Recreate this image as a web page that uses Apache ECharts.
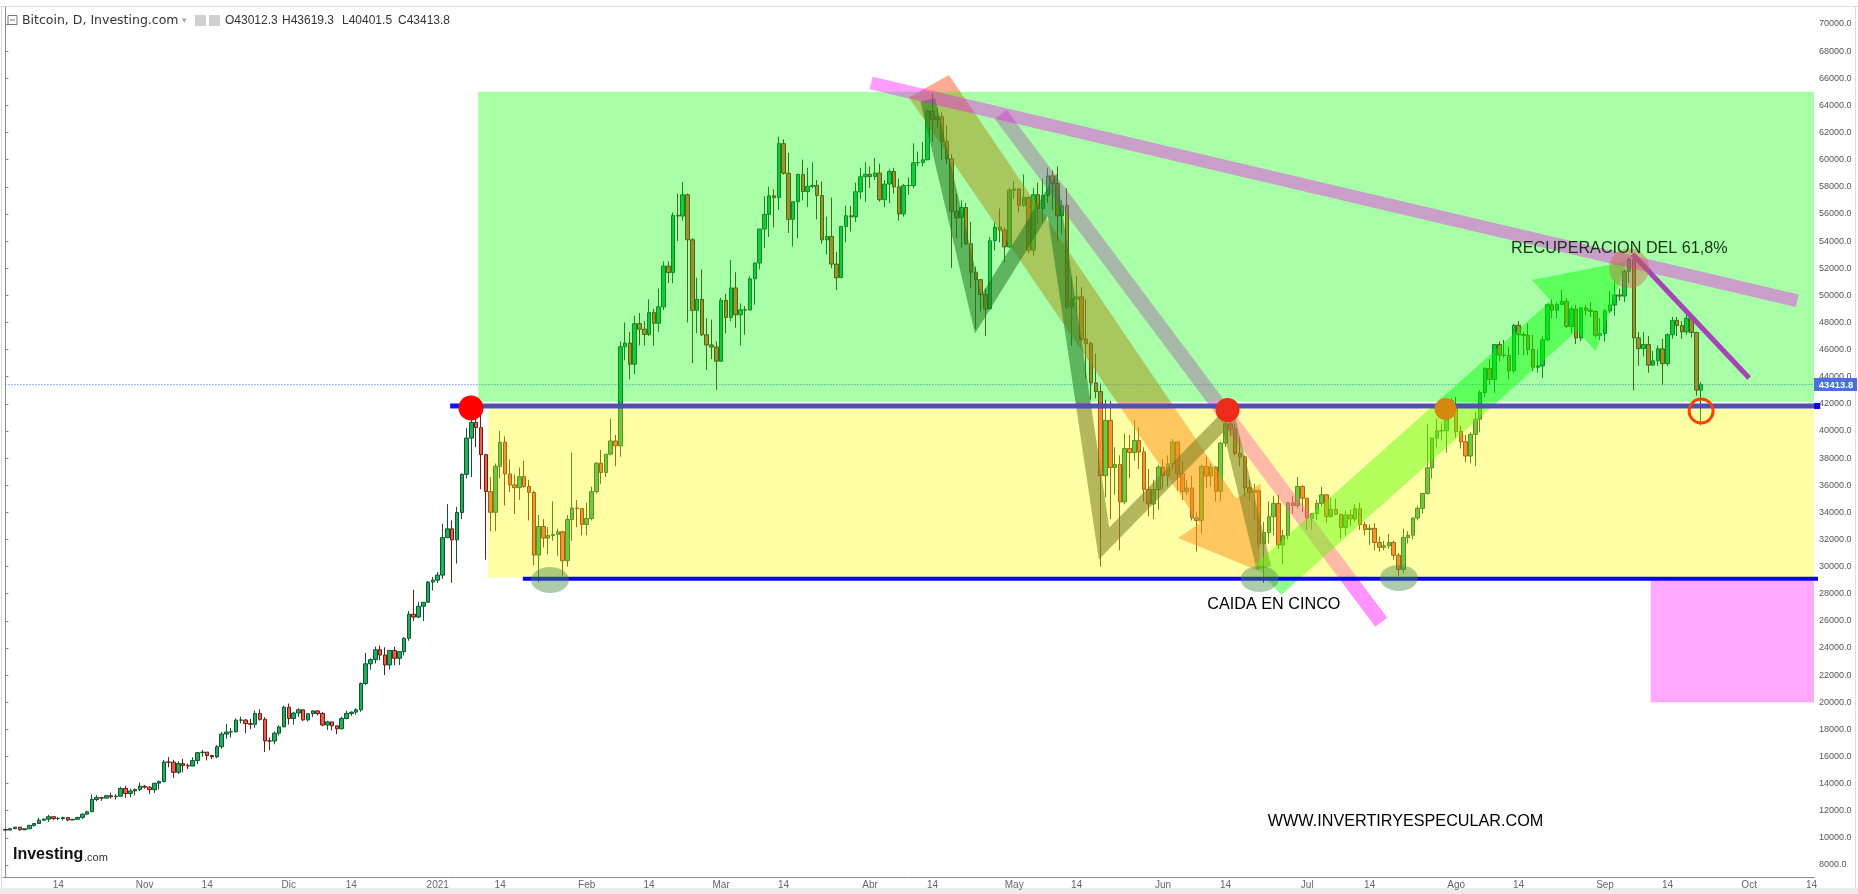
<!DOCTYPE html>
<html><head><meta charset="utf-8">
<script src="https://cdn.jsdelivr.net/npm/echarts@6/dist/echarts.min.js"></script>
<style>html,body{margin:0;padding:0;background:#fff;}#c{width:1858px;height:894px;}</style>
</head><body><div id="c"></div><script>
// ---------- DATA (daily BTC/USD, [close, high, low]; open = previous close) ----------
const firstOpen = 10620;
const oct2020 = [[10575,10660,10520],[10680,10700,10550],[10790,10800,10640],[10600,10800,10530],[10670,10680,10560],[10920,10960,10650],[11060,11100,10830],[11300,11490,11050],[11380,11430,11280],[11560,11700,11180],[11430,11560,11300],[11430,11540,11300],[11500,11560,11280],[11320,11540,11220],[11370,11400,11310],[11510,11520,11350],[11750,11800,11400],[11920,12000,11700],[12830,13200,11900],[12970,13150,12690],[12930,13020,12730],[13110,13150,12900],[13030,13330,12900],[13070,13220,12820],[13640,13760,13060],[13270,13840,12950],[13460,13620,12990],[13560,13650,13140],[13800,14090,13450]];
const nov2020 = [[13740,13900,13630],[13550,13800,13240],[14030,14050,13310],[14150,14230,13570],[15590,15740,14080],[15580,15960,15200],[14830,15750,14420],[15480,15650,14720],[15330,15830,14830],[15300,15480,15080],[15700,15940,15280],[16280,16330,15440],[16320,16480,15990],[16070,16320,15710],[15970,16120,15800],[16720,16830,15880],[17650,17800,16560],[17800,18390,17310],[17820,18100,17400],[18680,18800,17770],[18690,18940,18450],[18420,18750,17720],[18370,18770,18020],[19160,19390,18120],[18740,19480,18650],[17150,18900,16330],[17140,17400,16460],[17720,17850,16900],[18180,18300,17560],[19630,19750,18180]];
const dec2020 = [[18800,19900,18350],[19200,19300,18350],[19440,19560,18930],[18700,19500,18610],[19150,19160,18590],[19360,19400,18900],[19170,19420,19030],[18320,19290,18220],[18550,18630,17960],[18260,18560,17930],[18040,18260,17640],[18800,18930,18000],[19170,19380,18750],[19270,19310,19000],[19440,19560,19080],[21380,21460,19300],[22830,23640,21260],[23140,23240,22400],[23870,24100,22850],[23480,24170,23100],[22750,24050,22000],[23820,23830,22400],[23240,24080,22730],[23730,23780,22740],[24710,24790,23460],[26490,26720,24530],[26280,28290,25990],[27080,27390,26190],[27370,27370,25990],[28860,28940,27380],[29000,29240,28230]];
const jan2021 = [[29370,29600,28800],[32130,33160,29090],[32780,34600,32100],[31970,33400,28800],[33990,34400,30220],[36800,36880,33500],[39470,40200,36500],[40630,41950,36600],[40240,41380,38800],[38250,41300,35700],[35540,38300,30500],[34000,36600,32600],[37390,37600,32600],[39160,40000,36500],[36830,39600,34500],[36020,37900,35500],[35820,36800,33900],[36630,37300,34900],[35910,37800,35800],[35470,36400,33400],[30850,35600,30100],[32950,33800,28850],[32100,33500,31400],[32290,32900,30900],[32370,34800,31900],[32570,32800,30800],[30430,32500,29300],[33470,33800,30000],[34320,38400,31900],[34270,34900,32900],[33110,34300,32300]];
const feb2021 = [[33540,34700,32300],[35520,35900,33400],[37620,37700,35400],[36940,38600,36100],[38290,38300,36600],[39260,40900,38200],[38900,39700,37400],[46200,46600,38100],[46480,48000,45200],[44920,47300,43800],[47910,48500,44200],[47500,48700,46300],[47110,48100,46300],[48720,49700,47000],[47940,49000,46300],[49150,50500,47300],[52150,52500,48900],[51670,52500,50900],[55890,56100,50900],[55840,57500,54000],[57410,58350,55500],[54090,57500,48000],[48890,54200,45000],[49700,51300,47200],[47090,51900,47000],[46340,48300,44500],[46190,48200,45300],[45140,46600,43000]];
const mar2021 = [[49630,49800,45100],[48370,50100,47200],[50540,52600,48100],[48560,51700,47600],[48930,49400,46300],[48910,49200,47100],[51210,51400,48900],[52380,52400,49300],[54880,54900,51900],[55960,57300,53500],[57330,58000,54300],[57200,57800,55000],[61180,61700,56300],[59000,61500,58900],[55600,60500,54600],[56900,56900,53600],[58910,58970,54200],[57650,60000,57000],[58030,59400,56500],[58100,59800,57900],[57350,58500,55600],[54090,58400,53800],[54340,55800,53000],[52300,57200,52000],[51300,53200,50400],[55070,55100,51300],[55860,56600,53900],[55780,56600,54700],[57630,58300,55400],[58730,59400,57100],[58920,59800,56900]];
const apr2021 = [[58760,59500,57900],[59010,60100,58500],[57050,59700,56900],[58200,58500,56500],[59130,59300,56800],[57990,59400,57500],[56000,58600,55500],[58080,58200,55800],[58090,58700,57400],[59770,61200,57900],[59790,60600,59500],[59990,61300,59500],[63580,63700,60000],[62960,64850,61300],[63160,63800,62300],[61330,63500,60000],[60060,62500,59700],[56200,60400,52000],[55720,57500,54200],[56470,57000,53500],[53800,56800,53700],[51700,55400,50500],[51150,52100,47500],[50050,51100,48800],[49000,50500,47000],[54020,54300,48900],[55030,55400,53300],[54820,56400,53900],[53570,55000,52400],[57750,57900,53500]];
const may2021 = [[57830,58400,57100],[56630,57900,56100],[57200,58900,56500],[53330,57300,53100],[57420,57900,52900],[56400,58300,55300],[57360,58600,55400],[58800,59400,56800],[58230,59200,56300],[55860,59500,54000],[56610,57000,54500],[49150,57900,49000],[49720,51300,46300],[49880,51400,48800],[46760,50600,46600],[46430,49700,43900],[43540,46600,42300],[42900,45700,42400],[36700,43500,30000],[40780,42300,35100],[37300,42200,33500],[37530,38800,35300],[34770,38200,31200],[38700,39800,34600],[38400,39700,36500],[39290,40800,37800],[38450,40300,37200],[35690,38800,34800],[34620,37200,33700],[35680,36400,33500],[37340,37500,34200]];
const jun2021 = [[36690,37900,35700],[37580,38200,35900],[39190,39400,37200],[36870,39200,35600],[35520,37800,34900],[35800,36400,35300],[33590,36700,33400],[33400,34000,31100],[37390,37500,32400],[36680,38100,35800],[37330,37600,35900],[35550,37400,34800],[39100,39200,34800],[40520,41000,38800],[40140,41300,39600],[38350,40500,38200],[38090,39500,37400],[35820,38200,35200],[35480,36400,34900],[35600,36100,33400],[31680,35700,31300],[32510,33300,28800],[33680,34800,31700],[34660,35200,32300],[31590,35300,31300],[32280,32700,30200],[34700,34750,32000],[34500,35200,33900],[35910,36600,34300],[35040,36000,34000]];
const jul2021 = [[33570,35000,32700],[33900,33950,32700],[34660,34900,33400],[35290,35900,34400],[33690,35300,33200],[34220,35100,33600],[33860,35000,33800],[32880,33900,32100],[33810,34100,32300],[33520,34200,33000],[34260,34600,33300],[33090,34700,32700],[32730,33300,32300],[32820,33100,31600],[31780,33200,31200],[31420,32200,31100],[31530,31900,31200],[31780,32400,31300],[30840,31900,30500],[29790,31000,29300],[32140,32800,29500],[32310,32600,31700],[33580,33600,32000],[34290,34500,33400],[35390,35400,33900],[37280,40500,35300],[39470,39500,36500],[40000,40900,38800],[40030,40600,39300],[42230,42300,38400],[41630,42400,41100]];
const aug2021 = [[39970,42500,39500],[39200,40400,38700],[38150,39700,37700],[39750,39900,37600],[40870,41400,37400],[42830,43000,39900],[44610,44700,42500],[43800,45300,43400],[46370,46400,42800],[45590,46600,45100],[45560,46700,45400],[44430,46200,43800],[47790,47900,44300],[47100,48100,45600],[47050,47300,45600],[46000,47900,45600],[44700,47100,44400],[44800,46000,44300],[46720,47000,43900],[49300,49400,46600],[48900,49700,48300],[49320,49500,48300],[49550,50400,49300],[47700,49800,47600],[48990,49200,47200],[46850,49300,46400],[49070,49100,46600],[48900,49300,48500],[48810,49500,48400],[47050,48900,46900],[47170,48300,46700]];
const sep2021 = [[48850,49000,46600],[49280,50300,48700],[50030,51000,48500],[49940,50500,49600],[51770,51900,49500],[52660,52800,50900],[46860,52900,43000],[46070,47300,44800],[46370,47300,45500],[44850,47000,44300],[45170,45900,44800],[46050,46300,44800],[44960,46800,43400],[47090,47200,44800],[48150,48400,46800],[47770,48400,47000],[47300,48100,46800],[48310,48800,47100],[47260,48300,46900],[43010,47300,42600],[43413.8,43619.3,40401.5]];

const monthNames = ['Ene','Feb','Mar','Abr','May','Jun','Jul','Ago','Sep','Oct','Nov','Dic'];
const yTicks = [8000,10000,12000,14000,16000,18000,20000,22000,24000,26000,28000,30000,32000,34000,36000,38000,40000,42000,44000,46000,48000,50000,52000,54000,56000,58000,60000,62000,64000,66000,68000,70000];
const lastPrice = 43413.8;

// ---------- ANNOTATIONS (date, price) ----------
const zoneGreen  = [['2021-01-09T10', 65000], ['2021-10-14T12', 42150]];
const zoneYellow = [['2021-01-11T12', 41650], ['2021-10-14T12', 29200]];
const zonePink   = [['2021-09-10T12', 29000], ['2021-10-14T12', 20000]];
const levelTop   = [['2021-01-08T10', 41840], ['2021-10-15T08', 41840]];
const levelTopL  = [['2021-01-03T14', 41840], ['2021-01-08T10', 41840]];
const levelBot   = [['2021-01-18T17', 29100], ['2021-10-15T08', 29100]];
const magentaBand = [['2021-04-28T05', 63330], ['2021-07-16T10', 25900]];
const orangeArrow = [['2021-04-09T02', 64580], ['2021-04-17T10', 66240], ['2021-06-16T05', 35020], ['2021-06-21T07', 36120], ['2021-06-21T00', 29670], ['2021-06-04T02', 32110], ['2021-06-08T14', 33200]];
const waves = [['2021-04-13T01', 64400], ['2021-04-23T12', 48600], ['2021-05-08T22', 57400], ['2021-05-19T17', 31700], ['2021-06-14T10', 41000], ['2021-06-22T00', 29900]];
const greenArrow = [['2021-06-20T00', 30120], ['2021-08-20T17', 49600], ['2021-08-16T19', 51130], ['2021-09-05T12', 52500], ['2021-08-30T02', 45860], ['2021-08-26T05', 47400], ['2021-06-25T14', 27900]];
const trendLine = [['2021-04-01T05', 65650], ['2021-10-11T00', 49600]];
const purpleLine = [['2021-09-06T17', 53050], ['2021-10-01T00', 43900]];

const START = Date.UTC(2020, 9, 3);
const N_DAYS = 377;
function di(s) {
  const parts = s.split('T');
  const ymd = parts[0].split('-').map(Number);
  return (Date.UTC(ymd[0], ymd[1] - 1, ymd[2]) - START) / 864e5 + (parts[1] ? Number(parts[1]) / 24 : 0);
}

// categories (one per calendar day)
const cats = [], catLabel = [];
for (let i = 0; i < N_DAYS; i++) {
  const d = new Date(START + i * 864e5);
  cats.push(d.toISOString().slice(0, 10));
  const day = d.getUTCDate(), m = d.getUTCMonth();
  catLabel.push(day === 1 ? (m === 0 ? String(d.getUTCFullYear()) : monthNames[m]) : (day === 14 ? '14' : ''));
}
const rows = [].concat(oct2020, nov2020, dec2020, jan2021, feb2021, mar2021, apr2021, may2021, jun2021, jul2021, aug2021, sep2021);
let prev = firstOpen;
const ohlc = rows.map(r => { const o = prev; prev = r[0]; return [o, r[0], r[2], r[1]]; });

// ---------- shapes ----------
const under = [
  {kind: 'line', pts: [['2020-10-03', lastPrice], ['2021-10-14T12', lastPrice]], color: '#3f63e6', w: 1, dash: [1, 2]},
  {kind: 'line', pts: magentaBand, color: 'rgba(255,0,255,0.42)', w: 15},
  {kind: 'poly', pts: orangeArrow, color: 'rgba(255,85,35,0.5)'},
  {kind: 'line', pts: waves, color: 'rgba(50,55,50,0.55)', w: 15},
  {kind: 'poly', pts: greenArrow, color: 'rgba(0,255,0,0.45)'}
];
const zones = [
  {kind: 'rect', pts: zonePink, color: 'rgba(255,0,255,0.34)'},
  {kind: 'rect', pts: zoneGreen, color: 'rgba(0,255,0,0.34)'},
  {kind: 'rect', pts: zoneYellow, color: 'rgba(255,255,0,0.35)'}
];
const txtFont = '16.2px "Liberation Sans", Arial, sans-serif';
const above = [
  {kind: 'line', pts: levelTopL, color: '#1010ff', w: 5},
  {kind: 'line', pts: levelTop, color: '#5050ae', w: 5},
  {kind: 'line', pts: levelBot, color: '#0505f0', w: 4},
  {kind: 'sq', at: ['2021-10-15T04', 41840], color: '#0000ff', s: 6},
  {kind: 'line', pts: trendLine, color: 'rgba(255,0,255,0.38)', w: 13},
  {kind: 'line', pts: purpleLine, color: '#a545b5', w: 5},
  {kind: 'ellipse', at: ['2021-01-24T09', 29010], rx: 19, ry: 13, color: 'rgba(70,140,70,0.45)'},
  {kind: 'ellipse', at: ['2021-06-21T02', 29080], rx: 19, ry: 13, color: 'rgba(70,140,70,0.45)'},
  {kind: 'ellipse', at: ['2021-07-20T02', 29160], rx: 19, ry: 13, color: 'rgba(70,140,70,0.45)'},
  {kind: 'circle', at: ['2021-01-07T22', 41690], r: 12.5, color: '#ff0000'},
  {kind: 'circle', at: ['2021-06-14T10', 41540], r: 12, color: '#ee2a1a'},
  {kind: 'circle', at: ['2021-07-29T19', 41620], r: 11, color: '#d4880f'},
  {kind: 'circle', at: ['2021-09-06T00', 51990], r: 20, color: 'rgba(200,100,70,0.42)'},
  {kind: 'ring', at: ['2021-09-21T00', 41470], r: 12, color: '#ff4400', w: 3},
  {kind: 'text', at: ['2021-08-12T10', 53410], text: 'RECUPERACION DEL 61,8%', color: '#103510'},
  {kind: 'text', at: ['2021-06-10T05', 27200], text: 'CAIDA EN CINCO', color: '#000'},
  {kind: 'text', at: ['2021-06-22T19', 11240], text: 'WWW.INVERTIRYESPECULAR.COM', color: '#000'},
  {kind: 'tag', at: ['2021-10-14T12', lastPrice], text: lastPrice.toFixed(1)}
];

function P(api, p) { return api.coord([di(p[0]), p[1]]); }
function draw(s, api) {
  if (s.kind === 'line') return {type: 'polyline', shape: {points: s.pts.map(p => P(api, p))}, style: {stroke: s.color, lineWidth: s.w, fill: null, lineDash: s.dash || null, lineJoin: 'miter', lineCap: 'butt'}};
  if (s.kind === 'poly') return {type: 'polygon', shape: {points: s.pts.map(p => P(api, p))}, style: {fill: s.color}};
  if (s.kind === 'rect') { const a = P(api, s.pts[0]), b = P(api, s.pts[1]); return {type: 'rect', shape: {x: Math.min(a[0], b[0]), y: Math.min(a[1], b[1]), width: Math.abs(b[0] - a[0]), height: Math.abs(b[1] - a[1])}, style: {fill: s.color}}; }
  const c = P(api, s.at);
  if (s.kind === 'circle') return {type: 'circle', shape: {cx: c[0], cy: c[1], r: s.r}, style: {fill: s.color}};
  if (s.kind === 'ring') return {type: 'circle', shape: {cx: c[0], cy: c[1], r: s.r}, style: {fill: null, stroke: s.color, lineWidth: s.w}};
  if (s.kind === 'ellipse') return {type: 'ellipse', shape: {cx: c[0], cy: c[1], rx: s.rx, ry: s.ry}, style: {fill: s.color}};
  if (s.kind === 'sq') return {type: 'rect', shape: {x: c[0] - s.s / 2, y: c[1] - s.s / 2, width: s.s, height: s.s}, style: {fill: s.color}};
  if (s.kind === 'text') return {type: 'text', x: c[0], y: c[1], style: {text: s.text, fill: s.color, font: txtFont, align: 'left', verticalAlign: 'middle'}};
  if (s.kind === 'tag') return {type: 'group', children: [
    {type: 'rect', shape: {x: c[0], y: c[1] - 6.5, width: 43, height: 13}, style: {fill: '#4a6fe0'}},
    {type: 'text', x: c[0] + 22, y: c[1] + 0.5, style: {text: s.text, fill: '#fff', font: 'bold 9.5px "Liberation Sans", Arial, sans-serif', align: 'center', verticalAlign: 'middle'}}]};
}
function layer(list, z) {
  return {type: 'custom', xAxisIndex: 1, yAxisIndex: 0, z: z, silent: true, clip: false,
    data: list.map(s => { const p = s.pts ? s.pts[0] : s.at; return [di(p[0]), p[1]]; }),
    renderItem: (params, api) => draw(list[params.dataIndex], api)};
}

const chart = echarts.init(document.getElementById('c'), null, {renderer: 'canvas'});
const showLab = (i) => catLabel[i] !== '';
const axFont = '"Liberation Sans", Arial, sans-serif';
chart.setOption({
  animation: false,
  backgroundColor: '#ffffff',
  grid: {left: 3, right: 44, top: 7, bottom: 17, containLabel: false},
  xAxis: [{
    type: 'category', data: cats, boundaryGap: true,
    axisLine: {lineStyle: {color: '#8a8a8a'}},
    axisTick: {alignWithLabel: true, interval: showLab, length: 4, lineStyle: {color: '#8a8a8a'}},
    axisLabel: {interval: showLab, formatter: (v, i) => catLabel[i], color: '#666', fontSize: 10, margin: 3, fontFamily: axFont},
    splitLine: {show: false}
  }, {type: 'value', min: -0.5, max: N_DAYS - 0.5, show: false}],
  yAxis: {
    type: 'value', position: 'right', min: 7115, max: 71253, scale: true,
    axisLine: {show: true, lineStyle: {color: '#8a8a8a'}},
    axisTick: {show: true, customValues: yTicks, length: 3, lineStyle: {color: '#8a8a8a'}},
    axisLabel: {customValues: yTicks, formatter: v => v.toFixed(1), color: '#555', fontSize: 9, margin: 5, fontFamily: axFont},
    splitLine: {show: false}
  },
  series: [
    {type: 'candlestick', xAxisIndex: 0, yAxisIndex: 0, z: 2, data: ohlc, barWidth: 4,
      itemStyle: {color: '#20ae5c', color0: '#f05a4a', borderColor: '#0f5530', borderColor0: '#6b1d15', borderWidth: 1}},
    layer(under, 3),
    layer(zones, 4),
    layer(above, 5)
  ],
  graphic: [
    {type: 'rect', shape: {x: 0, y: 888, width: 1858, height: 6}, style: {fill: '#ebebeb'}, silent: true},
    {type: 'line', shape: {x1: 0, y1: 6.5, x2: 1858, y2: 6.5}, style: {stroke: '#dcdcdc', lineWidth: 1}, silent: true},
    {type: 'line', shape: {x1: 1.5, y1: 6, x2: 1.5, y2: 888}, style: {stroke: '#dcdcdc', lineWidth: 1}, silent: true},
    {type: 'line', shape: {x1: 1855.5, y1: 6, x2: 1855.5, y2: 888}, style: {stroke: '#dcdcdc', lineWidth: 1}, silent: true},
    {type: 'rect', shape: {x: 8, y: 15.5, width: 9, height: 9}, style: {fill: '#fff', stroke: '#777', lineWidth: 1}},
    {type: 'line', shape: {x1: 10, y1: 20, x2: 15, y2: 20}, style: {stroke: '#777', lineWidth: 1}},
    {type: 'text', x: 22, y: 20.5, style: {text: 'Bitcoin, D, Investing.com', font: '12.5px "DejaVu Sans", sans-serif', fill: '#333', verticalAlign: 'middle'}},
    {type: 'text', x: 182, y: 21, style: {text: '▾', font: '9px "DejaVu Sans", sans-serif', fill: '#aaa', verticalAlign: 'middle'}},
    {type: 'rect', shape: {x: 195, y: 15, width: 11, height: 11}, style: {fill: '#d0d0d0'}},
    {type: 'rect', shape: {x: 209, y: 15, width: 11, height: 11}, style: {fill: '#d0d0d0'}},
    {type: 'text', x: 225, y: 20.5, style: {text: 'O43012.3', font: '12px "Liberation Sans", Arial, sans-serif', fill: '#333', verticalAlign: 'middle'}},
    {type: 'text', x: 282, y: 20.5, style: {text: 'H43619.3', font: '12px "Liberation Sans", Arial, sans-serif', fill: '#333', verticalAlign: 'middle'}},
    {type: 'text', x: 342, y: 20.5, style: {text: 'L40401.5', font: '12px "Liberation Sans", Arial, sans-serif', fill: '#333', verticalAlign: 'middle'}},
    {type: 'text', x: 398, y: 20.5, style: {text: 'C43413.8', font: '12px "Liberation Sans", Arial, sans-serif', fill: '#333', verticalAlign: 'middle'}},
    {type: 'text', x: 13, y: 855, style: {text: 'Investing', font: 'bold 16px "Liberation Sans", Arial, sans-serif', fill: '#111', verticalAlign: 'middle'}},
    {type: 'text', x: 84, y: 858, style: {text: '.com', font: '11px "Liberation Sans", Arial, sans-serif', fill: '#333', verticalAlign: 'middle'}}
  ]
});
</script></body></html>
